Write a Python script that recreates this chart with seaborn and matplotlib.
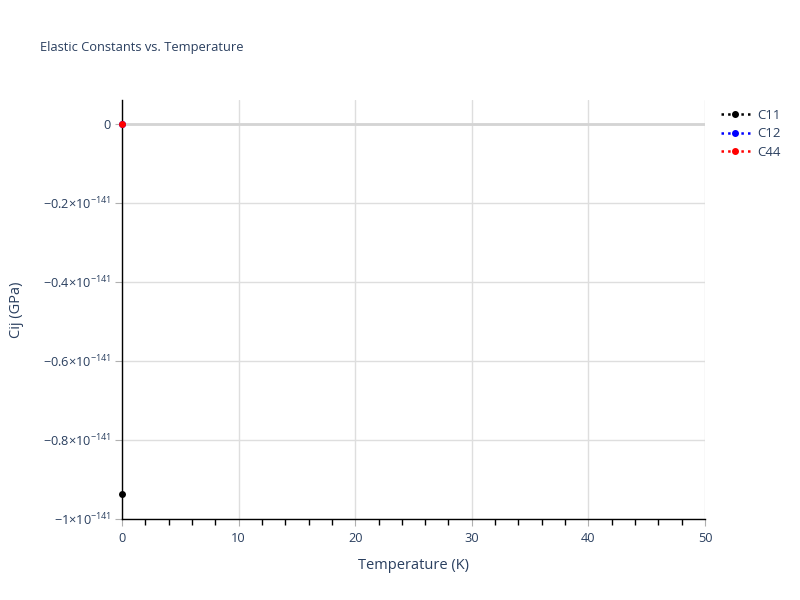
import pandas as pd
import matplotlib
matplotlib.use("Agg")
import matplotlib.pyplot as plt
import seaborn as sns
from matplotlib.ticker import FuncFormatter, MultipleLocator
from matplotlib.lines import Line2D

# data (GPa), one point per constant at T = 0 K
temperature = [0.0, 0.0, 0.0]
constants = ["C11", "C12", "C44"]
cij_values = [-0.937e-141, 0.0, 0.0]
colors = {"C11": "black", "C12": "blue", "C44": "red"}

df = pd.DataFrame({"T": temperature, "name": constants, "Cij": cij_values})

sns.set_style("white")
text_col = "#2a3f5f"
plt.rcParams.update({
    "font.family": ["Open Sans", "DejaVu Sans"],
    "mathtext.fontset": "custom",
    "mathtext.rm": "Open Sans",
    "mathtext.it": "Open Sans",
    "mathtext.default": "regular",
    "text.color": text_col,
    "axes.labelcolor": text_col,
    "xtick.color": text_col,
    "ytick.color": text_col,
})

fig = plt.figure(figsize=(8, 6), dpi=100)
ax = fig.add_axes([0.1525, 0.135, 0.72875, 0.6983])

ax.grid(True, color="#dedede", linewidth=1)
ax.axhline(0, color="#d4d4d4", linewidth=2, zorder=1)

sns.lineplot(data=df, x="T", y="Cij", hue="name", palette=colors, marker="o",
             markersize=5, markeredgewidth=0, linestyle=":", legend=False,
             ax=ax, zorder=5, clip_on=False)

ax.set_xlim(0, 50)
ax.set_ylim(-1.0e-141, 0.06e-141)
ax.xaxis.set_major_locator(MultipleLocator(10))
ax.xaxis.set_minor_locator(MultipleLocator(2))
ax.yaxis.set_major_locator(MultipleLocator(0.2e-141))
ax.yaxis.set_minor_locator(plt.NullLocator())


def fmt(v, pos):
    m = v / 1e-141
    if abs(m) < 1e-9:
        return "0"
    s = f"{m:.1f}" if abs(abs(m) - 1) > 1e-9 else f"{m:.0f}"
    s = s.replace("-", "\u2212")
    return s + r"$\times10^{-141}$"


ax.yaxis.set_major_formatter(FuncFormatter(fmt))

for side in ["top", "right"]:
    ax.spines[side].set_visible(False)
for side in ["left", "bottom"]:
    ax.spines[side].set_color("black")
    ax.spines[side].set_linewidth(1)

ax.tick_params(axis="x", which="major", direction="out", length=5, color="#b0b0b0",
               labelsize=9.2, pad=4, bottom=True)
ax.tick_params(axis="x", which="minor", direction="out", length=4, color="black",
               width=1, bottom=True)
ax.tick_params(axis="y", which="major", direction="out", length=5, color="#b0b0b0",
               labelsize=9.2, pad=3, left=True)

ax.set_xlabel("Temperature (K)", fontsize=10.5, labelpad=10)
ax.set_ylabel("Cij (GPa)", fontsize=10.5, labelpad=14)
fig.text(0.05, 0.915, "Elastic Constants vs. Temperature", fontsize=9.3, color=text_col)

handles = [Line2D([], [], color=colors[c], linestyle=":", marker="o", markersize=4,
                  linewidth=1.8) for c in constants]
fig.legend(handles, constants, loc="upper left", bbox_to_anchor=(0.886, 0.838),
           frameon=False, fontsize=9.5, handlelength=2.2, handletextpad=0.6,
           labelspacing=0.4)

fig.savefig("out.png", dpi=100)
